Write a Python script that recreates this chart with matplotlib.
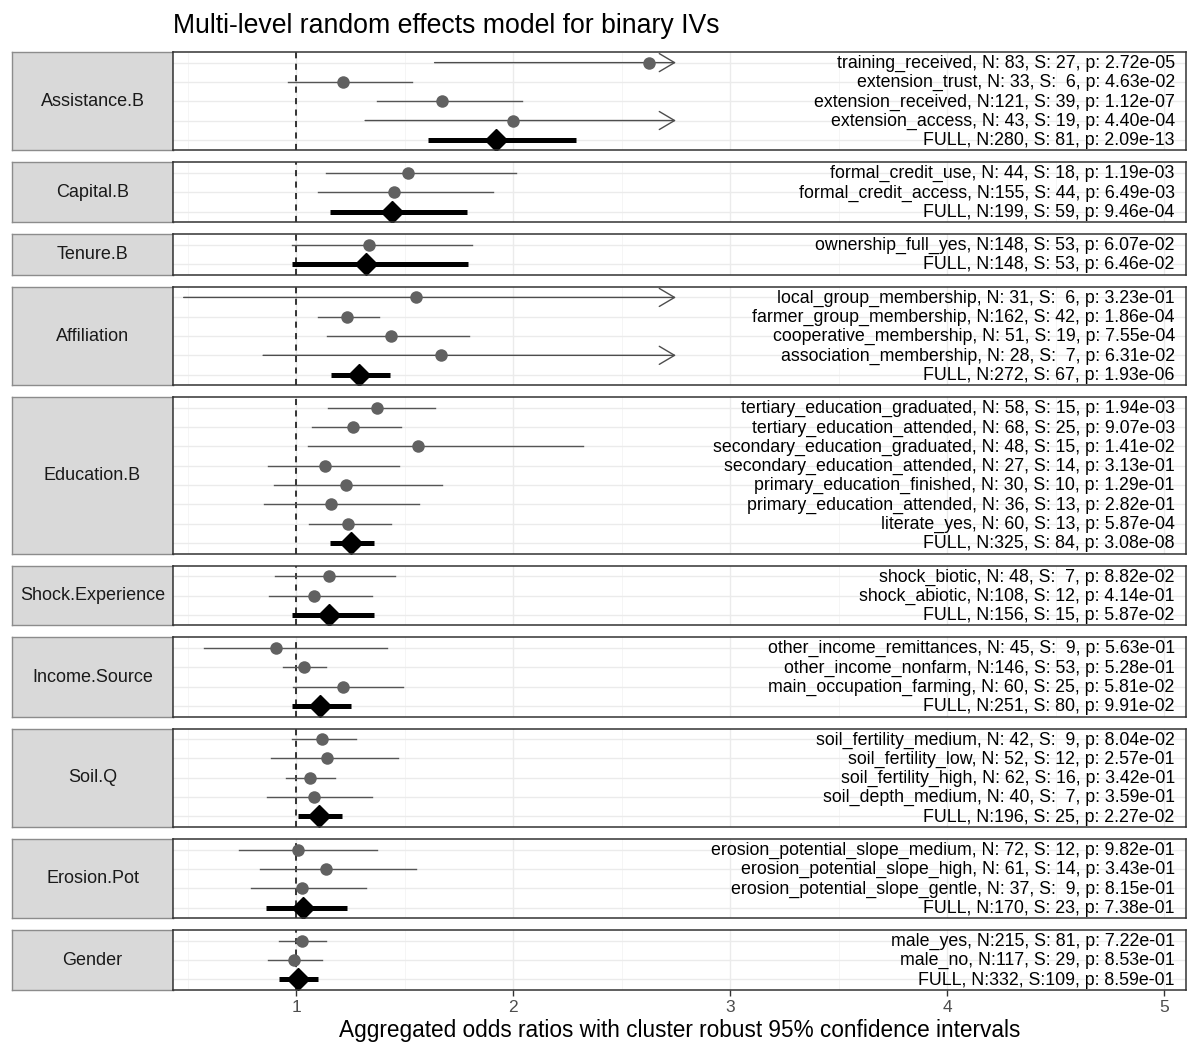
import numpy as np
import matplotlib.pyplot as plt

plt.rcParams['font.family'] = ['Liberation Sans', 'DejaVu Sans']

facets = ['Assistance.B', 'Capital.B', 'Tenure.B', 'Affiliation', 'Education.B',
          'Shock.Experience', 'Income.Source', 'Soil.Q', 'Erosion.Pot', 'Gender']

group = (['Assistance.B'] * 5 + ['Capital.B'] * 3 + ['Tenure.B'] * 2 + ['Affiliation'] * 5
         + ['Education.B'] * 8 + ['Shock.Experience'] * 3 + ['Income.Source'] * 4
         + ['Soil.Q'] * 5 + ['Erosion.Pot'] * 4 + ['Gender'] * 3)

variable = ['training_received', 'extension_trust', 'extension_received', 'extension_access', 'FULL',
            'formal_credit_use', 'formal_credit_access', 'FULL',
            'ownership_full_yes', 'FULL',
            'local_group_membership', 'farmer_group_membership', 'cooperative_membership',
            'association_membership', 'FULL',
            'tertiary_education_graduated', 'tertiary_education_attended',
            'secondary_education_graduated', 'secondary_education_attended',
            'primary_education_finished', 'primary_education_attended', 'literate_yes', 'FULL',
            'shock_biotic', 'shock_abiotic', 'FULL',
            'other_income_remittances', 'other_income_nonfarm', 'main_occupation_farming', 'FULL',
            'soil_fertility_medium', 'soil_fertility_low', 'soil_fertility_high',
            'soil_depth_medium', 'FULL',
            'erosion_potential_slope_medium', 'erosion_potential_slope_high',
            'erosion_potential_slope_gentle', 'FULL',
            'male_yes', 'male_no', 'FULL']

n_obs = [83, 33, 121, 43, 280,
         44, 155, 199,
         148, 148,
         31, 162, 51, 28, 272,
         58, 68, 48, 27, 30, 36, 60, 325,
         48, 108, 156,
         45, 146, 60, 251,
         42, 52, 62, 40, 196,
         72, 61, 37, 170,
         215, 117, 332]

n_sites = [27, 6, 39, 19, 81,
           18, 44, 59,
           53, 53,
           6, 42, 19, 7, 67,
           15, 25, 15, 14, 10, 13, 13, 84,
           7, 12, 15,
           9, 53, 25, 80,
           9, 12, 16, 7, 25,
           12, 14, 9, 23,
           81, 29, 109]

p_value = [2.72e-05, 4.63e-02, 1.12e-07, 4.40e-04, 2.09e-13,
           1.19e-03, 6.49e-03, 9.46e-04,
           6.07e-02, 6.46e-02,
           3.23e-01, 1.86e-04, 7.55e-04, 6.31e-02, 1.93e-06,
           1.94e-03, 9.07e-03, 1.41e-02, 3.13e-01, 1.29e-01, 2.82e-01, 5.87e-04, 3.08e-08,
           8.82e-02, 4.14e-01, 5.87e-02,
           5.63e-01, 5.28e-01, 5.81e-02, 9.91e-02,
           8.04e-02, 2.57e-01, 3.42e-01, 3.59e-01, 2.27e-02,
           9.82e-01, 3.43e-01, 8.15e-01, 7.38e-01,
           7.22e-01, 8.53e-01, 8.59e-01]

odds = [2.625, 1.218, 1.674, 1.998, 1.920,
        1.516, 1.453, 1.441,
        1.336, 1.324,
        1.552, 1.236, 1.438, 1.670, 1.290,
        1.372, 1.264, 1.564, 1.134, 1.229, 1.160, 1.237, 1.255,
        1.151, 1.082, 1.154,
        0.906, 1.035, 1.214, 1.111,
        1.120, 1.143, 1.063, 1.082, 1.106,
        1.008, 1.138, 1.026, 1.031,
        1.026, 0.989, 1.008]

ci_low = [1.638, 0.963, 1.372, 1.318, 1.610,
          1.137, 1.103, 1.155,
          0.983, 0.979,
          0.482, 1.102, 1.143, 0.848, 1.160,
          1.149, 1.072, 1.054, 0.870, 0.899, 0.853, 1.061, 1.158,
          0.903, 0.874, 0.979,
          0.577, 0.939, 0.986, 0.983,
          0.979, 0.885, 0.952, 0.866, 1.011,
          0.739, 0.834, 0.793, 0.862,
          0.920, 0.872, 0.923]

# None = upper bound beyond the cap, drawn as an arrow
ci_high = [None, 1.533, 2.041, None, 2.290,
           2.012, 1.908, 1.788,
           1.811, 1.793,
           None, 1.381, 1.799, None, 1.435,
           1.638, 1.482, 2.324, 1.472, 1.674, 1.568, 1.438, 1.359,
           1.458, 1.349, 1.358,
           1.418, 1.138, 1.493, 1.255,
           1.276, 1.468, 1.178, 1.349, 1.212,
           1.372, 1.552, 1.321, 1.233,
           1.138, 1.121, 1.101]

ci_cap = 2.75

W, H = 1192, 1047
fig = plt.figure(figsize=(W / 100, H / 100), dpi=100)

top_px, bottom_px, gap_px = 52, 990, 12
strip_l, panel_l, panel_r = 12, 173, 1186
pad = 0.55
counts = [group.count(f) for f in facets]
heights = [n - 1 + 2 * pad for n in counts]
unit = (bottom_px - top_px - gap_px * (len(facets) - 1)) / sum(heights)

grid_col = '#EBEBEB'
y_px = top_px
start = 0
for k, facet in enumerate(facets):
    n = counts[k]
    h = heights[k] * unit
    rect = [panel_l / W, 1 - (y_px + h) / H, (panel_r - panel_l) / W, h / H]
    srect = [strip_l / W, 1 - (y_px + h) / H, (panel_l - strip_l) / W, h / H]
    y_px += h + gap_px

    sax = fig.add_axes(srect)
    sax.set_facecolor('#D9D9D9')
    sax.set_xticks([])
    sax.set_yticks([])
    for sp in sax.spines.values():
        sp.set_color('#8C8C8C')
        sp.set_linewidth(1.0)
    sax.text(0.5, 0.5, facet, ha='center', va='center', fontsize=13,
             color='#1A1A1A', transform=sax.transAxes)

    ax = fig.add_axes(rect)
    ax.set_xlim(0.433, 5.10)
    ax.set_ylim(1 - pad, n + pad)
    rows = np.arange(n, 0, -1)
    ax.set_yticks(rows)
    ax.set_xticks([1, 2, 3, 4, 5])
    ax.set_xticks([0.5, 1.5, 2.5, 3.5, 4.5], minor=True)
    ax.grid(which='major', color=grid_col, lw=1.0)
    ax.grid(which='minor', axis='x', color='#F4F4F4', lw=0.6)
    ax.set_axisbelow(True)
    ax.tick_params(axis='y', length=0, labelleft=False)
    ax.tick_params(axis='x', which='minor', length=0)
    for sp in ax.spines.values():
        sp.set_color('#333333')
        sp.set_linewidth(1.1)
        sp.set_zorder(5)

    ax.axvline(1, color='black', lw=1.1, ls=(0, (4, 3.5)), zorder=2)

    for i in range(n):
        j = start + i
        yy = rows[i]
        full = variable[j] == 'FULL'
        if full:
            ax.plot([ci_low[j], ci_high[j]], [yy, yy], color='black', lw=3.6,
                    solid_capstyle='butt', zorder=3)
            ax.plot(odds[j], yy, marker='D', ms=11, color='black', zorder=4)
        else:
            if ci_high[j] is None:
                ax.annotate('', xy=(ci_cap, yy), xytext=(ci_low[j], yy),
                            arrowprops=dict(arrowstyle='->,head_length=1.1,head_width=0.65',
                                            color='#4D4D4D', lw=1.0, shrinkA=0, shrinkB=0),
                            zorder=3)
            else:
                ax.plot([ci_low[j], ci_high[j]], [yy, yy], color='#555555', lw=1.0, zorder=3)
            ax.plot(odds[j], yy, marker='o', ms=9, color='#616161', mec='none', zorder=4)

        label = f"{variable[j]}, N:{n_obs[j]:3d}, S:{n_sites[j]:3d}, p: {p_value[j]:.2e}"
        ax.text(0.989, yy - 0.04, label, ha='right', va='center', fontsize=12.8, color='black',
                transform=ax.get_yaxis_transform(), zorder=6)
    start += n

    if k == len(facets) - 1:
        ax.tick_params(axis='x', which='major', length=4, width=1, color='#333333',
                       labelsize=12.5, labelcolor='#4D4D4D', pad=3)
        ax.set_xlabel('Aggregated odds ratios with cluster robust 95% confidence intervals',
                      fontsize=16.3, labelpad=3)
    else:
        ax.tick_params(axis='x', which='major', length=0, labelbottom=False)

fig.text(panel_l / W, 1 - 26 / H, 'Multi-level random effects model for binary IVs',
         ha='left', va='center', fontsize=19.2)

fig.savefig('out.png', dpi=100, facecolor='white')
